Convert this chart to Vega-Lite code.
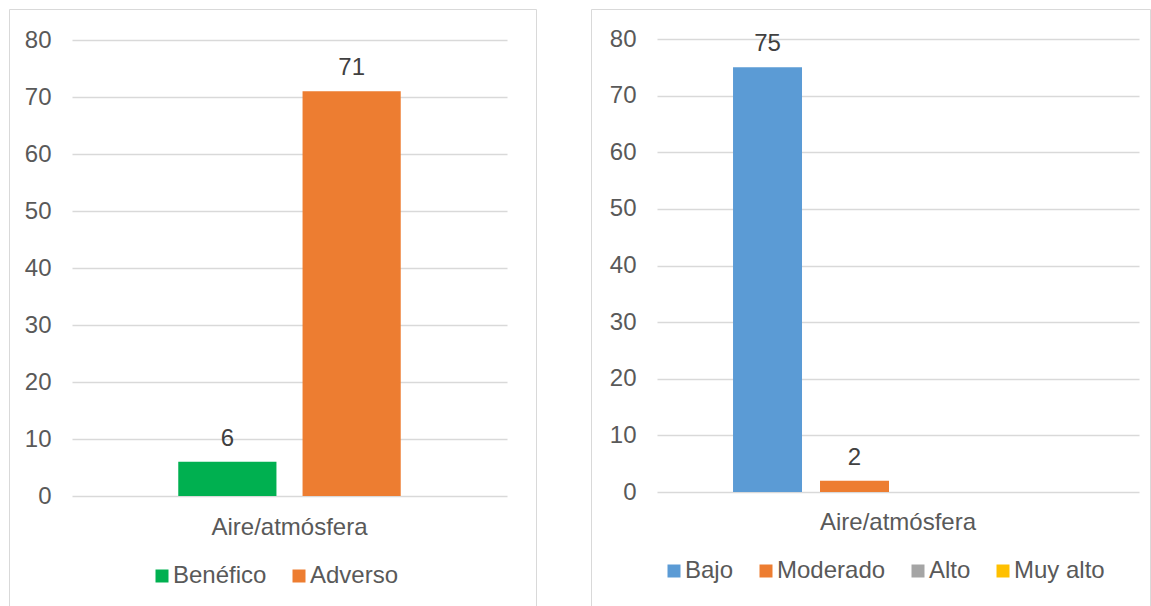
{
  "$schema": "https://vega.github.io/schema/vega-lite/v6.json",
  "padding": {"left": 8, "top": 8, "right": 0, "bottom": 0},
  "spacing": 53,
  "datasets": {
    "caracter": [
      {"factor": "Aire/atmósfera", "serie": "Benéfico", "valor": 6},
      {"factor": "Aire/atmósfera", "serie": "Adverso", "valor": 71}
    ],
    "importancia": [
      {"factor": "Aire/atmósfera", "serie": "Bajo", "valor": 75},
      {"factor": "Aire/atmósfera", "serie": "Moderado", "valor": 2},
      {"factor": "Aire/atmósfera", "serie": "Alto", "valor": 0},
      {"factor": "Aire/atmósfera", "serie": "Muy alto", "valor": 0}
    ]
  },
  "hconcat": [
    {
      "width": 527,
      "height": 598,
      "data": {"name": "caracter"},
      "encoding": {
        "x": {"field": "factor", "type": "nominal",
          "scale": {"range": [63, 498], "paddingInner": 0, "paddingOuter": 0},
          "axis": {"title": null, "offset": -111, "domain": false, "ticks": false, "labelPadding": 38, "labelBaseline": "alphabetic", "labelAngle": 0, "grid": false}},
        "xOffset": {"field": "serie", "type": "nominal", "sort": ["Benéfico", "Adverso"],
          "scale": {"paddingInner": 0.21, "paddingOuter": 0.855}},
        "y": {"field": "valor", "type": "quantitative",
          "scale": {"domain": [0, 80], "range": [487, 31], "nice": false, "zero": true},
          "axis": {"title": null, "offset": -63, "values": [0, 10, 20, 30, 40, 50, 60, 70, 80], "domain": false, "ticks": false, "labelPadding": 21, "grid": true}}
      },
      "layer": [
        {
          "mark": {"type": "bar"},
          "encoding": {
            "color": {"field": "serie", "type": "nominal",
              "scale": {"domain": ["Benéfico", "Adverso"], "range": ["#00b050", "#ed7d31"]},
              "legend": {"title": null, "orient": "none", "direction": "horizontal", "legendX": 141, "legendY": 555}}
          }
        },
        {
          "mark": {"type": "text", "baseline": "alphabetic", "dy": -16, "fontSize": 24, "color": "#404040", "font": "Liberation Sans"},
          "encoding": {"text": {"field": "valor", "type": "quantitative"}}
        }
      ]
    },
    {
      "width": 559,
      "height": 598,
      "data": {"name": "importancia"},
      "encoding": {
        "x": {"field": "factor", "type": "nominal",
          "scale": {"range": [66, 548], "paddingInner": 0, "paddingOuter": 0},
          "axis": {"title": null, "offset": -115, "domain": false, "ticks": false, "labelPadding": 37, "labelBaseline": "alphabetic", "labelAngle": 0, "grid": false}},
        "xOffset": {"field": "serie", "type": "nominal", "sort": ["Bajo", "Moderado", "Alto", "Muy alto"],
          "scale": {"paddingInner": 0.207, "paddingOuter": 0.874}},
        "y": {"field": "valor", "type": "quantitative",
          "scale": {"domain": [0, 80], "range": [483, 30], "nice": false, "zero": true},
          "axis": {"title": null, "offset": -66, "values": [0, 10, 20, 30, 40, 50, 60, 70, 80], "domain": false, "ticks": false, "labelPadding": 21, "grid": true}}
      },
      "layer": [
        {
          "mark": {"type": "bar"},
          "encoding": {
            "color": {"field": "serie", "type": "nominal",
              "scale": {"domain": ["Bajo", "Moderado", "Alto", "Muy alto"], "range": ["#5b9bd5", "#ed7d31", "#a5a5a5", "#ffc000"]},
              "legend": {"title": null, "orient": "none", "direction": "horizontal", "legendX": 71, "legendY": 550}}
          }
        },
        {
          "transform": [{"filter": "datum.valor > 0"}],
          "mark": {"type": "text", "baseline": "alphabetic", "dy": -16, "fontSize": 24, "color": "#404040", "font": "Liberation Sans"},
          "encoding": {"text": {"field": "valor", "type": "quantitative"}}
        }
      ]
    }
  ],
  "resolve": {
    "scale": {"color": "independent", "x": "independent", "xOffset": "independent", "y": "independent"},
    "legend": {"color": "independent"}
  },
  "config": {
    "font": "Liberation Sans",
    "view": {"stroke": "#d9d9d9", "strokeWidth": 1},
    "axis": {"labelFont": "Liberation Sans", "labelFontSize": 24, "labelColor": "#595959", "gridColor": "#d9d9d9", "gridWidth": 1.3},
    "legend": {"labelFont": "Liberation Sans", "labelFontSize": 24, "labelColor": "#595959", "symbolType": "square", "symbolSize": 169, "symbolStrokeWidth": 0, "symbolOffset": 0, "labelOffset": -1, "columnPadding": 20, "padding": 0}
  }
}
